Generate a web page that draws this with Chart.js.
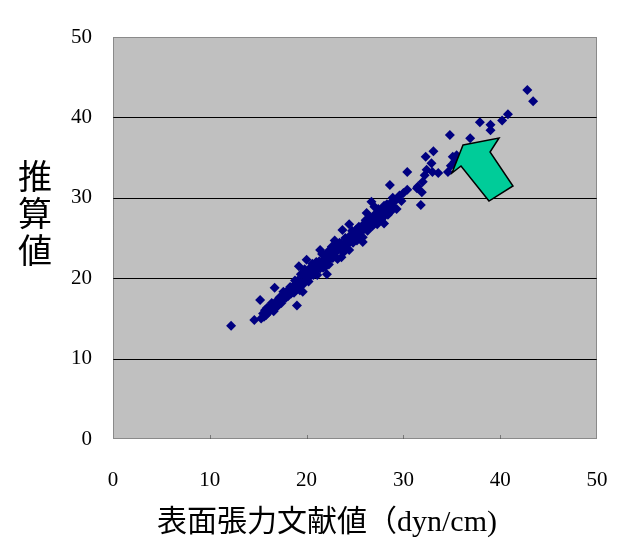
<!DOCTYPE html>
<html>
<head>
<meta charset="utf-8">
<script src="https://cdn.jsdelivr.net/npm/chart.js@4/dist/chart.umd.min.js"></script>
<style>
  html, body { margin: 0; padding: 0; background: #fff; }
  #wrap { width: 630px; height: 552px; }
</style>
</head>
<body>
<div id="wrap"><canvas id="chartCanva"></canvas></div>
<script>
// literature surface tension (x) vs estimated value (y), rows line up
var litValues = [
  12.2, 14.6, 15.2, 15.3, 15.5, 15.6, 15.7, 15.8, 15.9, 16.0, 16.1, 16.2, 16.3, 16.4, 16.5, 16.6, 16.7, 16.8,
  16.9, 17.0, 17.1, 17.2, 17.3, 17.4, 17.5, 17.6, 17.7, 17.8, 17.9, 18.0, 18.1, 18.2, 18.3, 18.4, 18.5,
  18.6, 18.7, 18.8, 18.9, 19.0, 19.0, 19.1, 19.2, 19.3, 19.4, 19.5, 19.6, 19.7, 19.8, 19.9, 20.0, 20.0,
  20.1, 20.2, 20.3, 20.4, 20.5, 20.6, 20.7, 20.8, 20.9, 21.0, 21.1, 21.2, 21.3, 21.4, 21.5, 21.6, 21.7,
  21.8, 21.9, 22.0, 22.1, 22.2, 22.3, 22.4, 22.5, 22.6, 22.7, 22.8, 22.9, 23.0, 23.1, 23.2, 23.3, 23.4,
  23.5, 23.6, 23.7, 23.8, 23.9, 24.0, 24.1, 24.2, 24.3, 24.4, 24.5, 24.6, 24.7, 24.8, 24.9, 25.0, 25.1,
  25.2, 25.3, 25.4, 25.5, 25.6, 25.7, 25.8, 25.9, 26.0, 26.1, 26.2, 26.3, 26.4, 26.5, 26.6, 26.7, 26.8,
  26.9, 27.0, 27.1, 27.2, 27.3, 27.4, 27.5, 27.6, 27.7, 27.8, 27.9, 28.0, 28.1, 28.2, 28.3, 28.4, 28.5,
  28.6, 28.7, 28.8, 28.9, 29.0, 29.2, 29.4, 29.6, 29.8, 30.0, 30.4, 30.4, 31.4, 31.5, 31.8, 31.9, 32.0,
  32.2, 32.3, 32.4, 32.9, 33.0, 33.1, 33.6, 34.6, 34.8, 34.9, 35.1, 35.3, 35.5, 35.6, 36.9, 37.9, 39.0,
  39.0, 40.2, 40.8, 42.8, 43.4,
  19.2, 19.6, 21.4, 22.1, 23.6, 24.4, 25.8, 27.0, 28.0, 29.3
];
var estValues = [
  14.1, 14.8, 17.3, 15.0, 15.6, 15.2, 16.0, 15.4, 16.3, 15.7, 15.8, 16.5, 16.1, 16.9, 16.3, 15.9, 18.8, 16.7,
  16.4, 17.3, 16.8, 17.6, 17.2, 16.9, 17.8, 18.3, 17.5, 17.9, 17.6, 18.4, 17.8, 18.6, 18.9, 18.1, 18.7,
  19.0, 18.2, 19.7, 19.0, 16.6, 18.7, 19.7, 19.4, 18.5, 20.5, 19.5, 19.2, 20.4, 21.1, 19.7, 22.3, 20.5,
  20.3, 19.6, 21.2, 20.8, 20.4, 21.8, 20.4, 21.4, 20.9, 22.0, 20.4, 21.5, 22.1, 21.2, 22.0, 23.0, 21.3,
  22.1, 21.4, 22.8, 22.2, 23.3, 21.7, 22.9, 22.5, 23.9, 22.5, 23.4, 24.7, 23.2, 24.0, 22.4, 23.7, 24.4,
  23.6, 24.3, 26.0, 23.2, 24.3, 25.0, 23.8, 24.8, 24.3, 23.5, 25.3, 24.9, 25.9, 24.4, 25.4, 24.9, 26.0,
  24.7, 25.7, 26.4, 25.3, 26.2, 25.8, 25.1, 26.7, 26.3, 27.2, 28.1, 25.9, 26.9, 26.5, 27.5, 29.5, 26.5,
  27.5, 26.8, 28.0, 27.5, 26.7, 28.6, 27.6, 28.1, 27.3, 28.6, 27.9, 29.0, 27.8, 28.6, 29.2, 27.9, 28.7,
  31.6, 28.3, 29.5, 30.0, 28.8, 29.7, 29.9, 30.3, 29.6, 30.6, 31.0, 33.2, 31.2, 31.4, 29.1, 30.7, 32.0,
  32.8, 35.1, 33.5, 34.3, 33.2, 35.8, 33.1, 33.2, 37.8, 34.0, 35.1, 34.5, 35.3, 34.8, 37.4, 39.4, 39.1,
  38.4, 39.6, 40.4, 43.4, 42.0,
  21.5, 18.3, 23.5, 20.5, 22.6, 26.7, 24.5, 28.9, 26.8, 28.6
];
var tickValues = [0, 10, 20, 30, 40, 50];
var xTitle = "表面張力文献値（dyn/cm)";
var yTitle = ["推", "算", "値"];
// arrow outline, in data units
var arrowX = [36.16, 39.88, 38.95, 41.32, 38.84, 35.95, 35.02];
var arrowY = [36.57, 37.44, 35.70, 31.47, 29.60, 33.96, 33.08];

var points = litValues.map(function (v, i) { return { x: v, y: estValues[i] }; });

var plotDeco = {
  id: 'plotDeco',
  beforeDatasetsDraw: function (chart) {
    var c = chart.ctx, a = chart.chartArea;
    c.save();
    c.fillStyle = '#c0c0c0';
    c.fillRect(a.left, a.top, a.right - a.left, a.bottom - a.top);
    var ys = chart.scales.y, xs = chart.scales.x;
    c.strokeStyle = '#000';
    c.lineWidth = 1;
    [10, 20, 30, 40].forEach(function (v) {
      var py = Math.round(ys.getPixelForValue(v)) + 0.5;
      c.beginPath(); c.moveTo(a.left, py); c.lineTo(a.right, py); c.stroke();
    });
    // tiny tick marks on the bottom edge
    c.strokeStyle = '#777';
    [10, 20, 30, 40].forEach(function (v) {
      var px = Math.round(xs.getPixelForValue(v)) + 0.5;
      c.beginPath(); c.moveTo(px, a.bottom - 4); c.lineTo(px, a.bottom); c.stroke();
    });
    c.strokeStyle = '#555';
    c.setLineDash([1, 1]);
    c.strokeRect(a.left + 0.5, a.top + 0.5, a.right - a.left - 1, a.bottom - a.top - 1);
    c.restore();
  },
  afterDatasetsDraw: function (chart) {
    var c = chart.ctx, xs = chart.scales.x, ys = chart.scales.y;
    c.save();
    c.beginPath();
    arrowX.forEach(function (v, i) {
      var px = xs.getPixelForValue(v), py = ys.getPixelForValue(arrowY[i]);
      if (i === 0) c.moveTo(px, py); else c.lineTo(px, py);
    });
    c.closePath();
    c.fillStyle = '#00cc99';
    c.fill();
    c.strokeStyle = '#000';
    c.lineWidth = 1.5;
    c.stroke();
    c.restore();
  },
  afterDraw: function (chart) {
    var c = chart.ctx;
    c.save();
    c.fillStyle = '#000';
    c.textAlign = 'center';
    c.textBaseline = 'middle';
    c.font = '34px "Noto Sans CJK JP"';
    yTitle.forEach(function (ch, i) { c.fillText(ch, 35, 176 + i * 37); });
    c.font = '30px "Liberation Serif", "Noto Sans CJK JP"';
    c.fillText(xTitle, 327, 523);
    c.restore();
  }
};

var config = {
  type: 'scatter',
  data: {
    datasets: [{
      data: points,
      pointStyle: 'rectRot',
      radius: 5,
      backgroundColor: '#000080',
      borderColor: '#000080',
      borderWidth: 0
    }]
  },
  options: {
    responsive: false,
    animation: false,
    layout: { padding: { top: 37, right: 33, left: 0, bottom: 0 } },
    plugins: {
      legend: { display: false },
      tooltip: { enabled: false }
    },
    scales: {
      x: {
        type: 'linear', min: 0, max: 50,
        afterFit: function (s) { s.height = 113; },
        afterBuildTicks: function (s) { s.ticks = tickValues.map(function (v) { return { value: v }; }); },
        // tick length (not drawn) pushes labels down without widening the right padding
        grid: { display: false, drawTicks: true, tickLength: 29 },
        border: { display: false },
        ticks: { padding: 0, color: '#000', font: { family: 'Liberation Serif', size: 21 } }
      },
      y: {
        type: 'linear', min: 0, max: 50,
        afterFit: function (s) { s.width = 113; },
        afterBuildTicks: function (s) { s.ticks = tickValues.map(function (v) { return { value: v }; }); },
        grid: { display: false, drawTicks: false },
        border: { display: false },
        ticks: { padding: 21, color: '#000', font: { family: 'Liberation Serif', size: 21 } }
      }
    }
  },
  plugins: [plotDeco]
};

var cv = document.getElementById('chartCanva');
cv.width = 630; cv.height = 552;
var myChart = new Chart(cv, config);
</script>
</body>
</html>
